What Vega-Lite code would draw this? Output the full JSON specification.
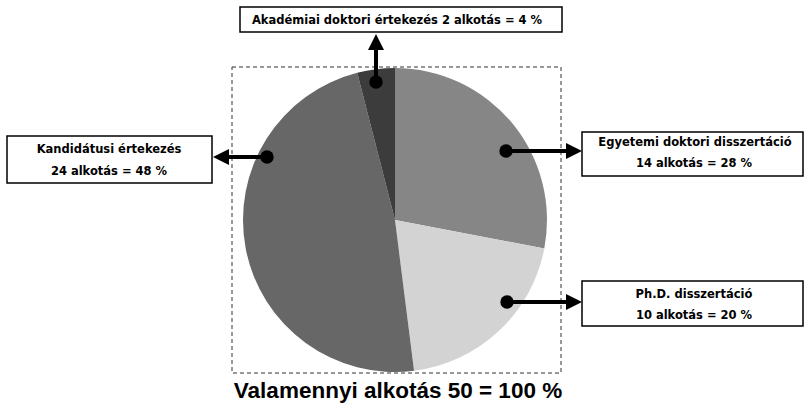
{
  "$schema": "https://vega.github.io/schema/vega-lite/v6.json",
  "width": 790,
  "height": 370,
  "padding": {"left": 0, "top": 35, "right": 14, "bottom": 0},
  "autosize": {"type": "none"},
  "background": "white",
  "config": {"view": {"stroke": null}},
  "datasets": {
    "szeletek": [
      {"kategoria": "Egyetemi doktori disszertáció", "alkotas": 14, "sorrend": 1},
      {"kategoria": "Ph.D. disszertáció", "alkotas": 10, "sorrend": 2},
      {"kategoria": "Kandidátusi értekezés", "alkotas": 24, "sorrend": 3},
      {"kategoria": "Akadémiai doktori értekezés", "alkotas": 2, "sorrend": 4}
    ],
    "keret": [{"x": 232, "x2": 561, "y": 67, "y2": 373}],
    "dobozok": [
      {"kategoria": "Akadémiai doktori értekezés", "x": 240, "x2": 562, "y": 7, "y2": 32},
      {"kategoria": "Kandidátusi értekezés", "x": 7, "x2": 212, "y": 136, "y2": 183},
      {"kategoria": "Egyetemi doktori disszertáció", "x": 582, "x2": 803, "y": 132, "y2": 176},
      {"kategoria": "Ph.D. disszertáció", "x": 582, "x2": 803, "y": 281, "y2": 326}
    ],
    "nyilak": [
      {"kategoria": "Akadémiai doktori értekezés", "x": 376, "y": 82, "x2": 376, "y2": 50, "irany": "fel"},
      {"kategoria": "Kandidátusi értekezés", "x": 267, "y": 157, "x2": 229, "y2": 157, "irany": "bal"},
      {"kategoria": "Egyetemi doktori disszertáció", "x": 506, "y": 151, "x2": 566, "y2": 151, "irany": "jobb"},
      {"kategoria": "Ph.D. disszertáció", "x": 507, "y": 302, "x2": 566, "y2": 302, "irany": "jobb"}
    ],
    "feliratok": [
      {"szoveg": "Akadémiai doktori értekezés 2 alkotás = 4 %", "x": 397, "y": 23.5},
      {"szoveg": "Kandidátusi értekezés", "x": 109, "y": 152.5},
      {"szoveg": "24 alkotás = 48 %", "x": 109, "y": 175},
      {"szoveg": "Egyetemi doktori disszertáció", "x": 695, "y": 146},
      {"szoveg": "14 alkotás = 28 %", "x": 694, "y": 166.5},
      {"szoveg": "Ph.D. disszertáció", "x": 694, "y": 297.5},
      {"szoveg": "10 alkotás = 20 %", "x": 694, "y": 318.5}
    ],
    "cim": [{"szoveg": "Valamennyi alkotás 50 = 100 %", "x": 398, "y": 398}]
  },
  "layer": [
    {
      "data": {"name": "szeletek"},
      "mark": {"type": "arc", "outerRadius": 152},
      "encoding": {
        "theta": {"field": "alkotas", "type": "quantitative", "stack": true},
        "order": {"field": "sorrend", "type": "quantitative"},
        "color": {
          "field": "kategoria",
          "type": "nominal",
          "legend": null,
          "scale": {
            "domain": ["Egyetemi doktori disszertáció", "Ph.D. disszertáció", "Kandidátusi értekezés", "Akadémiai doktori értekezés"],
            "range": ["#868686", "#d3d3d3", "#676767", "#3c3c3c"]
          }
        }
      }
    },
    {
      "data": {"name": "keret"},
      "mark": {"type": "rect", "filled": false, "stroke": "#333333", "strokeWidth": 1, "strokeDash": [4, 3]},
      "encoding": {
        "x": {"field": "x", "type": "quantitative", "axis": null, "scale": {"domain": [0, 790], "nice": false, "zero": false}},
        "x2": {"field": "x2"},
        "y": {"field": "y", "type": "quantitative", "axis": null, "scale": {"domain": [35, 405], "nice": false, "zero": false, "reverse": true}},
        "y2": {"field": "y2"}
      }
    },
    {
      "data": {"name": "nyilak"},
      "mark": {"type": "rule", "stroke": "black", "strokeWidth": 4},
      "encoding": {
        "x": {"field": "x", "type": "quantitative"},
        "x2": {"field": "x2"},
        "y": {"field": "y", "type": "quantitative"},
        "y2": {"field": "y2"}
      }
    },
    {
      "data": {"name": "nyilak"},
      "mark": {"type": "point", "shape": "circle", "filled": true, "size": 180, "color": "black", "opacity": 1},
      "encoding": {
        "x": {"field": "x", "type": "quantitative"},
        "y": {"field": "y", "type": "quantitative"}
      }
    },
    {
      "data": {"name": "nyilak"},
      "mark": {"type": "point", "filled": true, "size": 256, "color": "black", "opacity": 1},
      "encoding": {
        "x": {"field": "x2", "type": "quantitative"},
        "y": {"field": "y2", "type": "quantitative"},
        "shape": {
          "field": "irany",
          "type": "nominal",
          "legend": null,
          "scale": {
            "domain": ["fel", "bal", "jobb"],
            "range": ["M-1,0L0,-2L1,0Z", "M0,-1L-2,0L0,1Z", "M0,-1L2,0L0,1Z"]
          }
        }
      }
    },
    {
      "data": {"name": "dobozok"},
      "mark": {"type": "rect", "fill": "white", "stroke": "black", "strokeWidth": 1.5},
      "encoding": {
        "x": {"field": "x", "type": "quantitative"},
        "x2": {"field": "x2"},
        "y": {"field": "y", "type": "quantitative"},
        "y2": {"field": "y2"}
      }
    },
    {
      "data": {"name": "feliratok"},
      "mark": {"type": "text", "font": "DejaVu Sans", "fontWeight": "bold", "fontSize": 11.5, "align": "center", "baseline": "alphabetic", "color": "black"},
      "encoding": {
        "x": {"field": "x", "type": "quantitative"},
        "y": {"field": "y", "type": "quantitative"},
        "text": {"field": "szoveg"}
      }
    },
    {
      "data": {"name": "cim"},
      "mark": {"type": "text", "font": "Liberation Sans", "fontWeight": "bold", "fontSize": 22.5, "align": "center", "baseline": "alphabetic", "color": "black"},
      "encoding": {
        "x": {"field": "x", "type": "quantitative"},
        "y": {"field": "y", "type": "quantitative"},
        "text": {"field": "szoveg"}
      }
    }
  ]
}
